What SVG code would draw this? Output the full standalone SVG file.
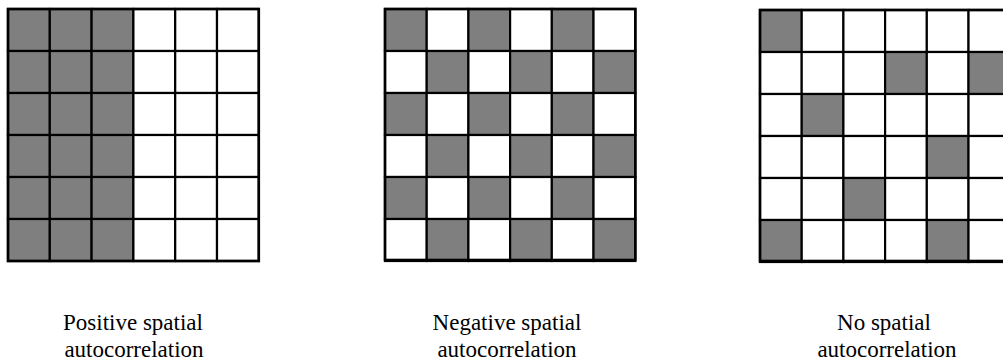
<svg xmlns="http://www.w3.org/2000/svg" width="1003" height="364" viewBox="0 0 1003 364">
<style>
.c{fill:#fff;stroke:#000;stroke-width:2.2}
.g{fill:#7f7f7f;stroke:#000;stroke-width:2.2}
.t{font-family:"Liberation Serif",serif;font-size:23px;fill:#000;text-anchor:middle}
</style>
<rect width="1003" height="364" fill="#fff"/>
<defs>
<rect id="w" class="c" width="41.8" height="42"/>
<rect id="k" class="g" width="41.8" height="42"/>
</defs>
<g id="grid-positive">
<use href="#k" x="8" y="9"/><use href="#k" x="49.8" y="9"/><use href="#k" x="91.6" y="9"/><use href="#w" x="133.4" y="9"/><use href="#w" x="175.2" y="9"/><use href="#w" x="217" y="9"/>
<use href="#k" x="8" y="51"/><use href="#k" x="49.8" y="51"/><use href="#k" x="91.6" y="51"/><use href="#w" x="133.4" y="51"/><use href="#w" x="175.2" y="51"/><use href="#w" x="217" y="51"/>
<use href="#k" x="8" y="93"/><use href="#k" x="49.8" y="93"/><use href="#k" x="91.6" y="93"/><use href="#w" x="133.4" y="93"/><use href="#w" x="175.2" y="93"/><use href="#w" x="217" y="93"/>
<use href="#k" x="8" y="135"/><use href="#k" x="49.8" y="135"/><use href="#k" x="91.6" y="135"/><use href="#w" x="133.4" y="135"/><use href="#w" x="175.2" y="135"/><use href="#w" x="217" y="135"/>
<use href="#k" x="8" y="177"/><use href="#k" x="49.8" y="177"/><use href="#k" x="91.6" y="177"/><use href="#w" x="133.4" y="177"/><use href="#w" x="175.2" y="177"/><use href="#w" x="217" y="177"/>
<use href="#k" x="8" y="219"/><use href="#k" x="49.8" y="219"/><use href="#k" x="91.6" y="219"/><use href="#w" x="133.4" y="219"/><use href="#w" x="175.2" y="219"/><use href="#w" x="217" y="219"/>
<rect x="8" y="9" width="250.8" height="252" fill="none" stroke="#000" stroke-width="2.6"/>
</g>
<g id="grid-negative" transform="translate(385,9)">
<use href="#k" x="0" y="0"/><use href="#w" x="41.7" y="0"/><use href="#k" x="83.4" y="0"/><use href="#w" x="125.1" y="0"/><use href="#k" x="166.8" y="0"/><use href="#w" x="208.5" y="0"/>
<use href="#w" x="0" y="42"/><use href="#k" x="41.7" y="42"/><use href="#w" x="83.4" y="42"/><use href="#k" x="125.1" y="42"/><use href="#w" x="166.8" y="42"/><use href="#k" x="208.5" y="42"/>
<use href="#k" x="0" y="84"/><use href="#w" x="41.7" y="84"/><use href="#k" x="83.4" y="84"/><use href="#w" x="125.1" y="84"/><use href="#k" x="166.8" y="84"/><use href="#w" x="208.5" y="84"/>
<use href="#w" x="0" y="126"/><use href="#k" x="41.7" y="126"/><use href="#w" x="83.4" y="126"/><use href="#k" x="125.1" y="126"/><use href="#w" x="166.8" y="126"/><use href="#k" x="208.5" y="126"/>
<use href="#k" x="0" y="168"/><use href="#w" x="41.7" y="168"/><use href="#k" x="83.4" y="168"/><use href="#w" x="125.1" y="168"/><use href="#k" x="166.8" y="168"/><use href="#w" x="208.5" y="168"/>
<use href="#w" x="0" y="210"/><use href="#k" x="41.7" y="210"/><use href="#w" x="83.4" y="210"/><use href="#k" x="125.1" y="210"/><use href="#w" x="166.8" y="210"/><use href="#k" x="208.5" y="210"/>
<rect x="0" y="0" width="250.3" height="251" fill="none" stroke="#000" stroke-width="2.6"/>
</g>
<g id="grid-none" transform="translate(760,10)">
<use href="#k" x="0" y="0"/><use href="#w" x="41.7" y="0"/><use href="#w" x="83.4" y="0"/><use href="#w" x="125.1" y="0"/><use href="#w" x="166.8" y="0"/><use href="#w" x="208.5" y="0"/>
<use href="#w" x="0" y="42"/><use href="#w" x="41.7" y="42"/><use href="#w" x="83.4" y="42"/><use href="#k" x="125.1" y="42"/><use href="#w" x="166.8" y="42"/><use href="#k" x="208.5" y="42"/>
<use href="#w" x="0" y="84"/><use href="#k" x="41.7" y="84"/><use href="#w" x="83.4" y="84"/><use href="#w" x="125.1" y="84"/><use href="#w" x="166.8" y="84"/><use href="#w" x="208.5" y="84"/>
<use href="#w" x="0" y="126"/><use href="#w" x="41.7" y="126"/><use href="#w" x="83.4" y="126"/><use href="#w" x="125.1" y="126"/><use href="#k" x="166.8" y="126"/><use href="#w" x="208.5" y="126"/>
<use href="#w" x="0" y="168"/><use href="#w" x="41.7" y="168"/><use href="#k" x="83.4" y="168"/><use href="#w" x="125.1" y="168"/><use href="#w" x="166.8" y="168"/><use href="#w" x="208.5" y="168"/>
<use href="#k" x="0" y="210"/><use href="#w" x="41.7" y="210"/><use href="#w" x="83.4" y="210"/><use href="#w" x="125.1" y="210"/><use href="#k" x="166.8" y="210"/><use href="#w" x="208.5" y="210"/>
<rect x="0" y="0" width="250.3" height="251" fill="none" stroke="#000" stroke-width="2.6"/>
</g>
<g id="labels">
<text class="t" x="133" y="330">Positive spatial</text>
<text class="t" x="134" y="357">autocorrelation</text>
<text class="t" x="507" y="330">Negative spatial</text>
<text class="t" x="507" y="357">autocorrelation</text>
<text class="t" x="884" y="330">No spatial</text>
<text class="t" x="887" y="357">autocorrelation</text>
</g>
</svg>
